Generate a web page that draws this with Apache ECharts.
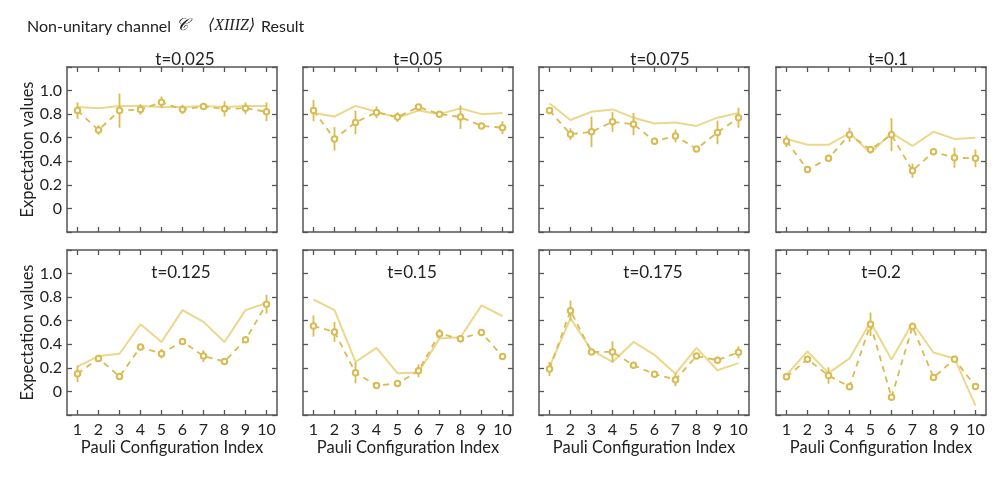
<!DOCTYPE html>
<html><head><meta charset="utf-8">
<script src="https://cdn.jsdelivr.net/npm/echarts@6/dist/echarts.min.js"></script>
<style>html,body{margin:0;padding:0;background:#fff}#c{width:997px;height:482px}</style>
</head><body><div id="c"></div>
<script>
const categories = ['1','2','3','4','5','6','7','8','9','10'];
const panelTitles = ['t=0.025','t=0.05','t=0.075','t=0.1','t=0.125','t=0.15','t=0.175','t=0.2'];
const yTickValues = [0, 0.2, 0.4, 0.6, 0.8, 1.0];

// theory (solid) lines
const th1 = [0.86,0.85,0.87,0.87,0.86,0.86,0.87,0.86,0.87,0.87];
const th2 = [0.81,0.78,0.87,0.82,0.77,0.83,0.80,0.85,0.80,0.81];
const th3 = [0.89,0.75,0.82,0.84,0.77,0.72,0.73,0.70,0.77,0.81];
const th4 = [0.59,0.54,0.54,0.64,0.47,0.64,0.53,0.65,0.59,0.60];
const th5 = [0.21,0.30,0.32,0.57,0.42,0.69,0.59,0.42,0.69,0.75];
const th6 = [0.78,0.69,0.25,0.37,0.155,0.16,0.45,0.46,0.73,0.64];
const th7 = [0.21,0.62,0.35,0.25,0.42,0.31,0.15,0.37,0.18,0.24];
const th8 = [0.14,0.34,0.155,0.28,0.59,0.27,0.58,0.33,0.28,-0.12];

// experiment (dashed, circles)
const ex1 = [0.83,0.665,0.83,0.84,0.90,0.84,0.865,0.845,0.85,0.82];
const ex2 = [0.83,0.59,0.73,0.815,0.775,0.86,0.80,0.775,0.70,0.685];
const ex3 = [0.83,0.63,0.65,0.735,0.715,0.57,0.615,0.505,0.645,0.77];
const ex4 = [0.57,0.33,0.425,0.625,0.50,0.625,0.32,0.48,0.43,0.425];
const ex5 = [0.15,0.28,0.127,0.376,0.32,0.424,0.30,0.254,0.438,0.74];
const ex6 = [0.555,0.505,0.158,0.05,0.068,0.175,0.49,0.448,0.50,0.296];
const ex7 = [0.19,0.685,0.335,0.335,0.223,0.146,0.10,0.30,0.265,0.332];
const ex8 = [0.124,0.273,0.135,0.04,0.57,-0.05,0.55,0.118,0.273,0.042];

// experiment error (half-length)
const er1 = [0.07,0.04,0.145,0.045,0.05,0.04,0.01,0.065,0.05,0.08];
const er2 = [0.09,0.10,0.10,0.05,0.04,0.02,0.015,0.10,0.015,0.055];
const er3 = [0.03,0.05,0.13,0.085,0.095,0.03,0.055,0.025,0.10,0.085];
const er4 = [0.05,0.02,0.03,0.06,0.03,0.14,0.06,0.015,0.085,0.075];
const er5 = [0.07,0.02,0.02,0.02,0.04,0.015,0.05,0.015,0.02,0.08];
const er6 = [0.09,0.085,0.09,0.015,0.03,0.055,0.04,0.03,0.015,0.015];
const er7 = [0.06,0.085,0.015,0.09,0.015,0.015,0.055,0.015,0.03,0.05];
const er8 = [0.03,0.015,0.07,0.015,0.10,0.015,0.015,0.015,0.03,0.015];

const theory = [th1,th2,th3,th4,th5,th6,th7,th8];
const expt = [ex1,ex2,ex3,ex4,ex5,ex6,ex7,ex8];
const errs = [er1,er2,er3,er4,er5,er6,er7,er8];

const solidColor = '#ebd88c';
const darkColor = '#d8bb52';
const axisColor = '#555';
const fontFam = 'Lato, "Open Sans", sans-serif';

const colLeft = [67, 303, 539, 776];
const rowTop = [67, 250];
const gw = 210, gh = 165;
const titleX = [180, 413, 655, 883, 176, 407, 648, 876];

const grids = [], xAxes = [], yAxes = [], series = [], titles = [];
for (let p = 0; p < 8; p++) {
  const r = Math.floor(p / 4), c = p % 4;
  grids.push({left: colLeft[c], top: rowTop[r], width: gw, height: gh, containLabel: false});
  const bottomRow = r === 1, firstCol = c === 0;
  xAxes.push({
    gridIndex: p, type: 'category', data: categories, boundaryGap: true, position: 'bottom',
    axisLine: {show: true, onZero: false, lineStyle: {color: axisColor, width: 1.5}},
    axisTick: {show: true, inside: true, alignWithLabel: true, length: 5, lineStyle: {color: axisColor, width: 1.3}},
    axisLabel: {show: bottomRow, margin: 7, color: '#222', fontSize: 16, fontFamily: fontFam, interval: 0},
    splitLine: {show: false},
    name: bottomRow ? 'Pauli Configuration Index' : '', nameLocation: 'middle', nameGap: 22,
    nameTextStyle: {color: '#222', fontSize: 16.5, fontFamily: fontFam}
  });
  xAxes.push({
    gridIndex: p, type: 'category', data: categories, boundaryGap: true, position: 'top',
    axisLine: {show: true, onZero: false, lineStyle: {color: axisColor, width: 1.5}},
    axisTick: {show: true, inside: true, alignWithLabel: true, length: 5, lineStyle: {color: axisColor, width: 1.3}},
    axisLabel: {show: false}, splitLine: {show: false}
  });
  yAxes.push({
    gridIndex: p, type: 'value', min: -0.2, max: 1.2, interval: 0.2, position: 'left',
    axisLine: {show: true, onZero: false, lineStyle: {color: axisColor, width: 1.5}},
    axisTick: {show: true, inside: true, length: 5, lineStyle: {color: axisColor, width: 1.3}},
    axisLabel: {show: firstCol, margin: 5, color: '#222', fontSize: 16, fontFamily: fontFam,
      formatter: v => {
        const m = yTickValues.find(t => Math.abs(t - v) < 1e-6);
        if (m === undefined) return '';
        return m === 0 ? '0' : m.toFixed(1);
      }},
    splitLine: {show: false},
    name: firstCol ? 'Expectation values' : '', nameLocation: 'middle', nameGap: 29, nameRotate: 90,
    nameTextStyle: {color: '#222', fontSize: 16.5, fontFamily: fontFam}
  });
  yAxes.push({
    gridIndex: p, type: 'value', min: -0.2, max: 1.2, interval: 0.2, position: 'right',
    axisLine: {show: true, onZero: false, lineStyle: {color: axisColor, width: 1.5}},
    axisTick: {show: true, inside: true, length: 5, lineStyle: {color: axisColor, width: 1.3}},
    axisLabel: {show: false}, splitLine: {show: false}
  });
  const xi = p * 2, yi = p * 2;
  series.push({
    type: 'line', xAxisIndex: xi, yAxisIndex: yi, data: theory[p], showSymbol: false, symbol: 'none',
    lineStyle: {color: solidColor, width: 2}, z: 2, silent: true
  });
  const errData = expt[p].map((v, i) => [i, v - errs[p][i], v + errs[p][i]]);
  series.push({
    type: 'custom', xAxisIndex: xi, yAxisIndex: yi, data: errData, z: 3, silent: true,
    encode: {x: 0, y: [1, 2]},
    renderItem: (params, api) => {
      const x = api.value(0);
      const lo = api.coord([x, api.value(1)]);
      const hi = api.coord([x, api.value(2)]);
      return {type: 'line', shape: {x1: lo[0], y1: lo[1], x2: hi[0], y2: hi[1]},
        style: {stroke: darkColor, lineWidth: 1.8}};
    }
  });
  series.push({
    type: 'line', xAxisIndex: xi, yAxisIndex: yi, data: expt[p], symbol: 'emptyCircle', symbolSize: 5.5,
    itemStyle: {color: darkColor, borderColor: darkColor, borderWidth: 1.3},
    lineStyle: {color: darkColor, width: 1.8, type: [6, 5]}, z: 4, silent: true
  });
  titles.push({
    text: panelTitles[p], left: titleX[p], top: r === 0 ? 46 : 259, textAlign: 'center',
    textStyle: {fontSize: 17, fontWeight: 'normal', color: '#222', fontFamily: fontFam}
  });
}

const chart = echarts.init(document.getElementById('c'), null, {renderer: 'canvas'});
chart.setOption({
  animation: false,
  backgroundColor: '#fff',
  title: titles,
  grid: grids, xAxis: xAxes, yAxis: yAxes, series: series,
  graphic: [
    {type: 'text', left: 27, top: 19, style: {text: 'Non-unitary channel', fontSize: 16, fontFamily: fontFam, fill: '#222'}},
    {type: 'text', left: 176, top: 17, style: {text: '𝒞', fontSize: 17, fontFamily: '"DejaVu Serif", serif', fontStyle: 'italic', fill: '#222'}},
    {type: 'text', left: 208, top: 18, style: {text: '⟨XIIIZ⟩', fontSize: 16, fontFamily: '"Liberation Serif", "DejaVu Serif", serif', fontStyle: 'italic', fill: '#222'}},
    {type: 'text', left: 261, top: 19, style: {text: 'Result', fontSize: 16, fontFamily: fontFam, fill: '#222'}}
  ]
});
</script></body></html>
